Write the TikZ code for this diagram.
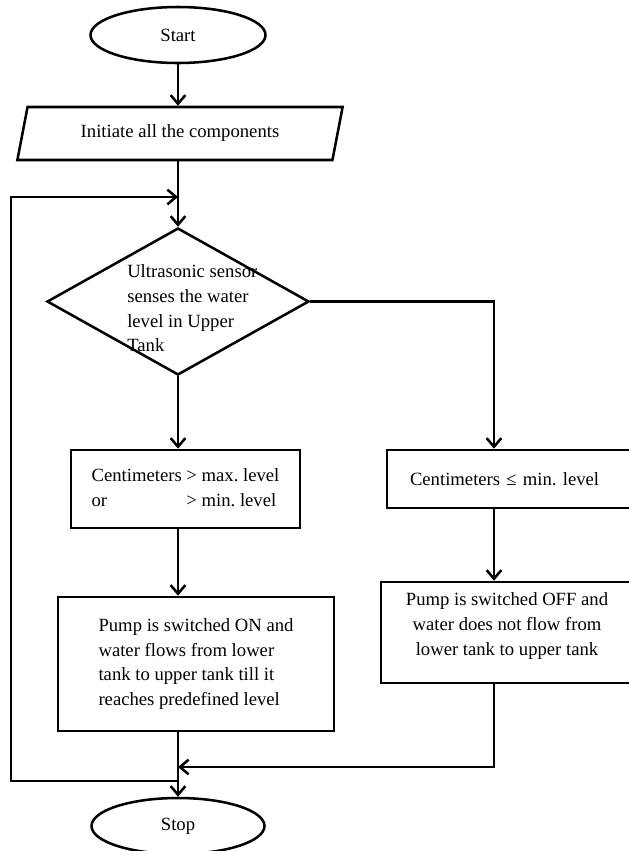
\documentclass[tikz,border=0pt]{standalone}
\usepackage{fontspec}
\setmainfont{Liberation Serif}
\frenchspacing
\usetikzlibrary{shapes.geometric,arrows.meta,positioning}

\begin{document}
\begin{tikzpicture}[
            x=0.75pt, y=-0.75pt,
            every node/.style={font=\fontsize{14}{18.5}\selectfont},
            terminal/.style={ellipse, draw, line width=1.9pt, inner sep=0pt, minimum width=131.25pt, minimum height=42pt},
            io/.style={trapezium, trapezium left angle=75, trapezium right angle=105, trapezium stretches=true, draw, line width=1.9pt, minimum width=244.5pt, minimum height=39.75pt},
            decision/.style={diamond, draw, line width=1.9pt, inner sep=0pt, minimum width=196.5pt, minimum height=110.25pt},
            process/.style={rectangle, draw, line width=1.9pt, inner sep=0pt},
            flow/.style={->, >={Straight Barb[length=6.5pt, width=11pt]}, line width=1.9pt}
        ]

        \useasboundingbox (0,0) rectangle (629,851);

        \node[terminal] (start) at (178,35) {Start};
        \node[io] (init) at (180,133.5) {Initiate all the components};
        \node[decision] (sense) at (178,301.5) {};
        \node[align=left, inner sep=0pt, anchor=west] (sensetext) at (127,308.5) {Ultrasonic sensor\\senses the water\\level in Upper\\Tank};

        \node[process, minimum width=171.75pt, minimum height=58.5pt] (high) at (185.5,489)
            {\begin{tabular}{@{}l@{ }l@{}}Centimeters & > max. level\\or & > min. level\end{tabular}};
        \node[process, minimum width=184.5pt, minimum height=43.5pt, text width=150pt, align=left] (low) at (510,479)
            {Centimeters ≤ min. level};

        \node[process, minimum width=207pt, minimum height=100.5pt, align=left] (pumpon) at (196,664)
            {Pump is switched ON and\\water flows from lower\\tank to upper tank till it\\reaches predefined level};
        \node[process, minimum width=189pt, minimum height=75.75pt, align=center] (pumpoff) at (507,632.5)
            {Pump is switched OFF and\\water does not flow from\\lower tank to upper tank\\[-6pt]};

        \node[terminal, minimum width=129.75pt] (stop) at (178,826) {Stop};

        \coordinate (loopin) at (178,197);
        \coordinate (merge) at (178,767);
        \coordinate (loopout) at (178,781);
        \coordinate (rail) at (11,0);
        \coordinate (rcol) at (494,0);

        \draw[flow] (start) -- (start |- init.north);
        \draw[flow] (init.south -| sense.north) -- (sense.north);
        \draw[flow] (sense) -- (sense |- high.north);
        \draw[flow] (sense.east) -| (rcol |- low.north);
        \draw[flow] (sense |- high.south) -- (sense |- pumpon.north);
        \draw[flow] (rcol |- low.south) -- (rcol |- pumpoff.north);
        \draw[flow] (rcol |- pumpoff.south) |- (merge);
        \draw[flow] (sense |- pumpon.south) -- (stop);
        \draw[flow] (loopout) -- (loopout -| rail) -- (loopin -| rail) -- (loopin);

    \end{tikzpicture}
\end{document}
